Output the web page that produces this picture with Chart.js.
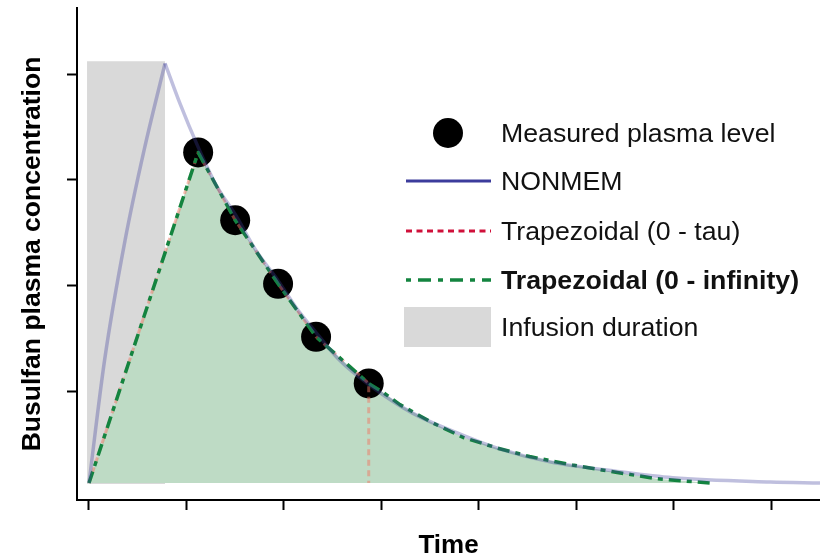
<!DOCTYPE html>
<html>
<head>
<meta charset="utf-8">
<script src="https://cdn.jsdelivr.net/npm/chart.js@4.4.1/dist/chart.umd.min.js"></script>
<style>
  html, body { margin: 0; padding: 0; background: #fff; }
  #wrap { width: 820px; height: 556px; }
</style>
</head>
<body>
<div id="wrap"><canvas id="chart"></canvas></div>
<script>
// ---- data (time in tick units, concentration in tick units) ----
const xTicks = [0, 1, 2, 3, 4, 5, 6, 7];
const yTicks = [1, 2, 3, 4];
const baseConc = 0.14;

const timeMeasured = [1.12, 1.50, 1.94, 2.33, 2.87];
const concMeasured = [3.26, 2.62, 2.02, 1.52, 1.08];

// NONMEM model curve: infusion rise, then decay
const riseTime = [0, 0.16, 0.37, 0.57, 0.78];
const riseConc = [0.14, 1.30, 2.43, 3.30, 4.10];
const decayTime = [0.78, 0.93, 1.12, 1.30, 1.51, 1.71, 1.94, 2.13, 2.33, 2.57, 2.87, 3.32, 3.84, 4.22, 4.73, 5.42, 5.99, 6.99, 7.50];
const decayConc = [4.10, 3.73, 3.31, 2.96, 2.66, 2.34, 2.05, 1.79, 1.56, 1.30, 1.07, 0.80, 0.59, 0.46, 0.34, 0.25, 0.19, 0.15, 0.14];

// extrapolated tail of the 0 - infinity trapezoid
const extrapTime = [3.01, 3.19, 3.50, 3.84, 4.19, 4.52, 4.96, 5.42, 5.83, 6.37];
const extrapConc = [1.00, 0.88, 0.72, 0.57, 0.47, 0.39, 0.31, 0.24, 0.18, 0.14];

const infusionStart = -0.02, infusionEnd = 0.78, infusionTop = 4.12;

const legendLabels = ['Measured plasma level', 'NONMEM', 'Trapezoidal (0 - tau)', 'Trapezoidal (0 - infinity)', 'Infusion duration'];

const zip = (xs, ys) => xs.map((x, i) => ({ x, y: ys[i] }));

const tauTime = [0, ...timeMeasured, timeMeasured[timeMeasured.length - 1]];
const tauConc = [baseConc, ...concMeasured, baseConc];
const infTime = [0, ...timeMeasured, ...extrapTime];
const infConc = [baseConc, ...concMeasured, ...extrapConc];

const FONT = "'Liberation Sans', Arial, sans-serif";
const C_NONMEM = '#3c3c9c', C_TAU = '#d0103a', C_INF = '#13843f', C_GRAY = '#d9d9d9';

// custom legend, drawn where the original sits
const legendPlugin = {
    id: 'boxLegend',
    afterDraw(chart) {
        const ctx = chart.ctx;
        const ys = [133, 181, 231, 280, 327];
        const x0 = 406, x1 = 491, tx = 501;
        ctx.save();
        // point
        ctx.fillStyle = '#000';
        ctx.beginPath(); ctx.arc(448, ys[0], 15, 0, Math.PI * 2); ctx.fill();
        // lines
        ctx.lineWidth = 3;
        ctx.strokeStyle = C_NONMEM; ctx.setLineDash([]);
        ctx.beginPath(); ctx.moveTo(x0, ys[1]); ctx.lineTo(x1, ys[1]); ctx.stroke();
        ctx.strokeStyle = C_TAU; ctx.setLineDash([6, 4.5]);
        ctx.beginPath(); ctx.moveTo(x0, ys[2]); ctx.lineTo(x1, ys[2]); ctx.stroke();
        ctx.strokeStyle = C_INF; ctx.lineWidth = 3.5; ctx.setLineDash([5, 7, 13, 7]);
        ctx.beginPath(); ctx.moveTo(x0, ys[3]); ctx.lineTo(x1, ys[3]); ctx.stroke();
        ctx.setLineDash([]);
        // box
        ctx.fillStyle = C_GRAY;
        ctx.fillRect(404, 307, 87, 40);
        // texts
        ctx.fillStyle = '#111';
        ctx.textBaseline = 'alphabetic';
        legendLabels.forEach((t, i) => {
            ctx.font = (i === 3 ? 'bold ' : '') + '26.7px ' + FONT;
            ctx.fillText(t, tx, ys[i] + 9);
        });
        ctx.restore();
    }
};

const lineBase = { pointRadius: 0, borderJoinStyle: 'round', fill: false };

new Chart(document.getElementById('chart'), {
    type: 'line',
    data: {
        datasets: [
            { ...lineBase, data: zip([infusionStart, infusionEnd], [infusionTop, infusionTop]), borderWidth: 0, borderColor: 'rgba(0,0,0,0)', backgroundColor: C_GRAY, fill: { value: 0.13 }, order: 6 },
            { ...lineBase, data: zip(infTime, infConc), borderWidth: 0, borderColor: 'rgba(0,0,0,0)', backgroundColor: '#bedbc5', fill: { value: baseConc }, order: 5 },
            { type: 'scatter', data: zip(timeMeasured, concMeasured), pointRadius: 15, pointHoverRadius: 15, backgroundColor: '#000', borderWidth: 0, order: 4 },
            { ...lineBase, data: zip(tauTime, tauConc), borderColor: 'rgba(240,120,100,0.5)', borderWidth: 3, borderDash: [6, 4.5], order: 3 },
            { ...lineBase, data: zip(infTime, infConc), borderColor: C_INF, borderWidth: 3.5, borderDash: [12, 6, 5, 6], order: 2 },
            { ...lineBase, data: zip(riseTime, riseConc), borderColor: 'rgba(60,60,156,0.33)', borderWidth: 3.5, cubicInterpolationMode: 'monotone', order: 1 },
            { ...lineBase, data: zip(decayTime, decayConc), borderColor: 'rgba(60,60,156,0.33)', borderWidth: 3.5, cubicInterpolationMode: 'monotone', order: 1 }
        ]
    },
    options: {
        responsive: true, maintainAspectRatio: false, animation: false,
        layout: { autoPadding: false, padding: { top: 8, right: 0, left: 0, bottom: 0 } },
        plugins: { legend: { display: false }, tooltip: { enabled: false } },
        events: [],
        scales: {
            x: {
                type: 'linear', min: -0.123, max: 7.5,
                afterBuildTicks: s => { s.ticks = xTicks.map(v => ({ value: v })); },
                afterFit: s => { s.height = 56; },
                ticks: { display: false },
                grid: { drawOnChartArea: false, drawTicks: true, tickLength: 10, tickColor: '#000', tickWidth: 2 },
                border: { display: true, color: '#000', width: 2 },
                title: { display: true, text: 'Time', color: '#000', font: { family: FONT, size: 26, weight: 'bold', lineHeight: 0.8 }, padding: 0 }
            },
            y: {
                type: 'linear', min: -0.02, max: 4.623,
                afterBuildTicks: s => { s.ticks = yTicks.map(v => ({ value: v })); },
                afterFit: s => { s.width = 77; },
                ticks: { display: false },
                grid: { drawOnChartArea: false, drawTicks: true, tickLength: 10, tickColor: '#000', tickWidth: 2 },
                border: { display: true, color: '#000', width: 2 },
                title: { display: true, text: 'Busulfan plasma concentration', color: '#000', font: { family: FONT, size: 26.5, weight: 'bold', lineHeight: 1 }, padding: { top: 19, bottom: 0 } }
            }
        }
    },
    plugins: [legendPlugin]
});
</script>
</body>
</html>
